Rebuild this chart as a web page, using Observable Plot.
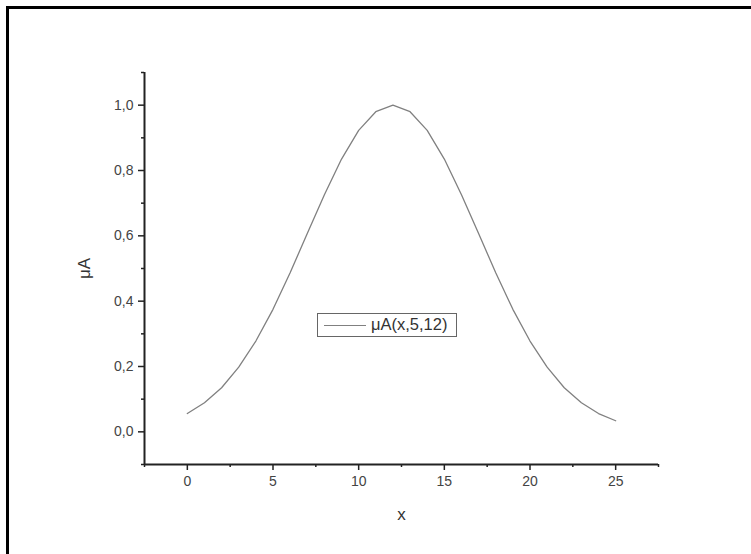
<!DOCTYPE html>
<html><head><meta charset="utf-8">
<script src="https://cdn.jsdelivr.net/npm/d3@7"></script>
<script src="https://cdn.jsdelivr.net/npm/@observablehq/plot@0.6"></script>
<style>
body{margin:0;background:#fff;font-family:"Liberation Sans",Arial,sans-serif;}
#wrap{position:relative;width:751px;height:554px;overflow:hidden;}
#frame{position:absolute;left:6px;top:6px;width:760px;height:560px;border-top:3px solid #000;border-left:3px solid #000;box-sizing:border-box;}
#legend{position:absolute;left:317px;top:313px;width:140px;height:24px;border:1px solid #666;box-sizing:border-box;background:#fff;font-size:16.5px;color:#333;}
#legend .ln{position:absolute;left:6px;top:11px;width:42px;height:0;border-top:1.3px solid #808080;}
#legend .tx{position:absolute;left:53px;top:1px;white-space:nowrap;}
#chart{position:absolute;left:0;top:0;}
</style></head>
<body><div id="wrap"><div id="chart"></div><div id="frame"></div>
<div id="legend"><div class="ln"></div><div class="tx">μA(x,5,12)</div></div></div>
<script>
const xs = [0,1,2,3,4,5,6,7,8,9,10,11,12,13,14,15,16,17,18,19,20,21,22,23,24,25];
const mu = [0.056,0.089,0.135,0.198,0.278,0.375,0.487,0.607,0.726,0.835,0.923,0.980,1.000,0.980,0.923,0.835,0.726,0.607,0.487,0.375,0.278,0.198,0.135,0.089,0.056,0.034];
const xMajor = [0,5,10,15,20,25];
const xMinor = [-2.5,2.5,7.5,12.5,17.5,22.5,27.5];
const yMajor = [0,0.2,0.4,0.6,0.8,1.0];
const yMinor = [-0.1,0.1,0.3,0.5,0.7,0.9,1.1];
const data = xs.map((x,i)=>({x, y: mu[i]}));
const fmt = d => d.toFixed(1).replace('.', ',');
const chart = Plot.plot({
  width: 751, height: 554,
  marginLeft: 144, marginTop: 72, marginRight: 93, marginBottom: 90,
  x: {domain: [-2.5, 27.5]},
  y: {domain: [-0.1, 1.1]},
  style: {fontFamily: '"Liberation Sans", Arial, sans-serif', background: "transparent"},
  marks: [
    Plot.axisX({ticks: xMinor, tickSize: 3, tickFormat: () => "", stroke: "#222", strokeWidth: 1.5, label: null}),
    Plot.axisY({ticks: yMinor, tickSize: 3, tickFormat: () => "", stroke: "#222", strokeWidth: 1.5, label: null}),
    Plot.axisX({ticks: xMajor, tickSize: 6, tickPadding: 6, fontSize: 14, fill: "#444", stroke: "#222", strokeWidth: 1.5,
      label: "x", labelAnchor: "center", labelArrow: "none", labelOffset: 55}),
    Plot.axisY({ticks: yMajor, tickSize: 6, tickPadding: 5, tickFormat: fmt, fontSize: 14, fill: "#444", stroke: "#222", strokeWidth: 1.5,
      label: "μA", labelAnchor: "center", labelArrow: "none", labelOffset: 67}),
    Plot.ruleX([-2.5], {stroke: "#222", strokeWidth: 2}),
    Plot.ruleY([-0.1], {stroke: "#222", strokeWidth: 2}),
    Plot.line(data, {x: "x", y: "y", stroke: "#808080", strokeWidth: 1.3})
  ]
});
chart.querySelectorAll('[aria-label="x-axis label"] text, [aria-label="y-axis label"] text').forEach(t => { t.style.fontSize = "17px"; t.setAttribute("fill", "#333"); });
document.getElementById("chart").appendChild(chart);
</script></body></html>
